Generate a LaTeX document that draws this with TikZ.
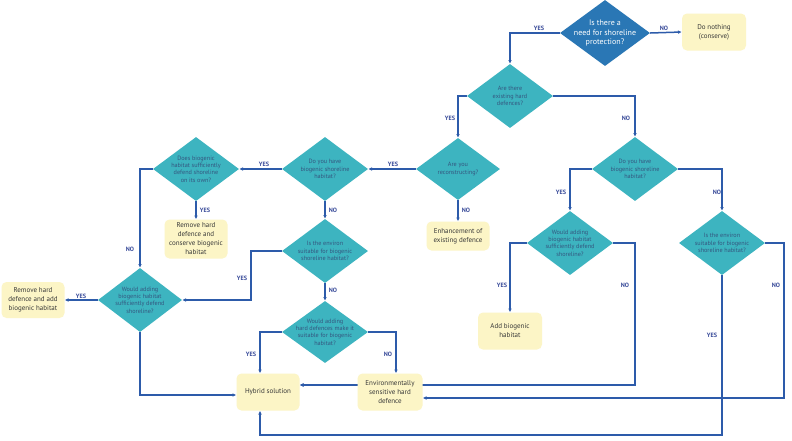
\documentclass[tikz,border=0pt]{standalone}
\usepackage{fontspec}
\setmainfont{PT Sans}
\usetikzlibrary{shapes.geometric,arrows.meta,backgrounds}
\definecolor{teal1}{HTML}{3DB4C0}
\definecolor{dblue}{HTML}{2A77B5}
\definecolor{lineb}{HTML}{2D5BAA}
\definecolor{labb}{HTML}{3A4C9A}
\definecolor{boxy}{HTML}{FCF5C6}
\definecolor{dtxt}{HTML}{34567F}
\begin{document}
\begin{tikzpicture}[x=1pt,y=-1pt,
  dia/.style={diamond, fill=teal1, minimum width=86pt, minimum height=64pt, inner sep=0pt},
  dtext/.style={font=\fontsize{6.2}{7.4}\selectfont, text=dtxt, align=center, inner sep=0pt},
  box/.style={fill=boxy, rounded corners=5pt, align=center, font=\fontsize{7}{9}\selectfont, text=black!78, inner sep=0pt, minimum width=64pt, minimum height=37pt},
  arr/.style={draw=lineb, line width=1.5pt, -{Latex[length=3.8pt,width=3.6pt]}},
  lab/.style={font=\bfseries\fontsize{6.2}{7}\selectfont, text=labb, inner sep=0pt}]
\useasboundingbox (0,0) rectangle (792,440);

% diamonds
\node[dia, fill=dblue, minimum width=90pt, minimum height=66pt] (d1) at (605,33) {};
\node[dtext, text=white, font=\fontsize{8}{9.4}\selectfont] (d1t) at (d1) {Is there a\\need for shoreline\\protection?};
\node[dia] (d2) at (510,96) {};
\node[dtext] (d2t) at (d2) {Are there\\existing hard\\defences?};
\node[dia, minimum width=84pt, minimum height=62pt] (d3) at (458,169) {};
\node[dtext] (d3t) at (d3) {Are you\\reconstructing?};
\node[dia] (d5) at (325,169) {};
\node[dtext] (d5t) at (d5) {Do you have\\biogenic shoreline\\habitat?};
\node[dia] (d6) at (196,169) {};
\node[dtext] (d6t) at (d6) {Does biogenic\\habitat sufficiently\\defend shoreline\\on its own?};
\node[dia] (d4) at (635,169) {};
\node[dtext] (d4t) at (d4) {Do you have\\biogenic shoreline\\habitat?};
\node[dia, minimum width=84pt] (d7) at (140,300) {};
\node[dtext] (d7t) at (d7) {Would adding\\biogenic habitat\\sufficiently defend\\shoreline?};
\node[dia] (d8) at (325,251) {};
\node[dtext] (d8t) at (d8) {Is the environ\\suitable for biogenic\\shoreline habitat?};
\node[dia, minimum height=62pt] (d9) at (325,332) {};
\node[dtext] (d9t) at (d9) {Would adding\\hard defences make it\\suitable for biogenic\\habitat?};
\node[dia] (d10) at (570,243) {};
\node[dtext] (d10t) at (d10) {Would adding\\biogenic habitat\\sufficiently defend\\shoreline?};
\node[dia] (d11) at (722,243) {};
\node[dtext] (d11t) at (d11) {Is the environ\\suitable for biogenic\\shoreline habitat?};

% boxes
\node[box] (nothing) at (714,32) {Do nothing\\(conserve)};
\node[box, minimum height=29pt, minimum width=63pt] (enh) at (458,236) {Enhancement of\\existing defence};
\node[box, minimum height=39pt, minimum width=63pt] (rem1) at (196,239) {Remove hard\\defence and\\conserve biogenic\\habitat};
\node[box, minimum height=36pt, minimum width=63pt] (rem2) at (33,300) {Remove hard\\defence and add\\biogenic habitat};
\node[box] (add) at (510,331) {Add biogenic\\habitat};
\node[box, minimum width=63pt] (hyb) at (268,392) {Hybrid solution};
\node[box, minimum width=65pt] (env) at (390,392) {Environmentally\\sensitive hard\\defence};

% connectors
\begin{scope}[on background layer]
\fill[white] (0,0) rectangle (792,440);
\draw[arr] (d1.west) -| (d2.north);
\draw[arr] (d1.east) -- (nothing.west);
\draw[arr] (d2.west) -| (d3.north);
\draw[arr] (d2.east) -| (d4.north);
\draw[arr] (d3.west) -- (d5.east);
\draw[arr] (d3.south) -- (enh.north);
\draw[arr] (d5.west) -- (d6.east);
\draw[arr] (d6.south) -- (rem1.north);
\draw[arr] (d6.west) -| (d7.north);
\draw[arr] (d7.west) -- (rem2.east);
\draw[arr] (d7.south) |- ([yshift=-3pt]hyb.west);
\draw[arr] (d5.south) -- (d8.north);
\draw[arr] (d8.west) -- ++(-31,0) |- (d7.east);
\draw[arr] (d8.south) -- (d9.north);
\draw[arr] (d9.west) -| ([xshift=-8pt]hyb.north);
\draw[arr] (d9.east) -| ([xshift=6pt]env.north);
\draw[arr] ([yshift=7pt]env.west) -- ([yshift=7pt]hyb.east);
\draw[arr] (d4.west) -| (d10.north);
\draw[arr] (d4.east) -| (d11.north);
\draw[arr] (d10.west) -| (add.north);
\draw[arr] (d10.east) -- ++(22,0) |- ([yshift=7pt]hyb.east);
\draw[arr] (d11.east) -- ++(19,0) |- ([yshift=-6pt]env.east);
\draw[arr] (d11.south) -- ++(0,160) -| ([xshift=-8pt]hyb.south);
\end{scope}

% labels
\node[lab] (l1) at (539,28) {YES};
\node[lab] (l2) at (664,28) {NO};
\node[lab] (l3) at (450,118) {YES};
\node[lab] (l4) at (626,118) {NO};
\node[lab] (l5) at (393,164) {YES};
\node[lab] (l6) at (264,164) {YES};
\node[lab] (l7) at (205,210) {YES};
\node[lab] (l8) at (333,210) {NO};
\node[lab] (l9) at (466,210) {NO};
\node[lab] (l10) at (130,249) {NO};
\node[lab] (l11) at (81,296) {YES};
\node[lab] (l12) at (242,278) {YES};
\node[lab] (l13) at (333,290) {NO};
\node[lab] (l14) at (251,354) {YES};
\node[lab] (l15) at (388,354) {NO};
\node[lab] (l16) at (561,192) {YES};
\node[lab] (l17) at (717,192) {NO};
\node[lab] (l18) at (502,285) {YES};
\node[lab] (l19) at (625,285) {NO};
\node[lab] (l20) at (776,285) {NO};
\node[lab] (l21) at (712,335) {YES};
\end{tikzpicture}
\end{document}
